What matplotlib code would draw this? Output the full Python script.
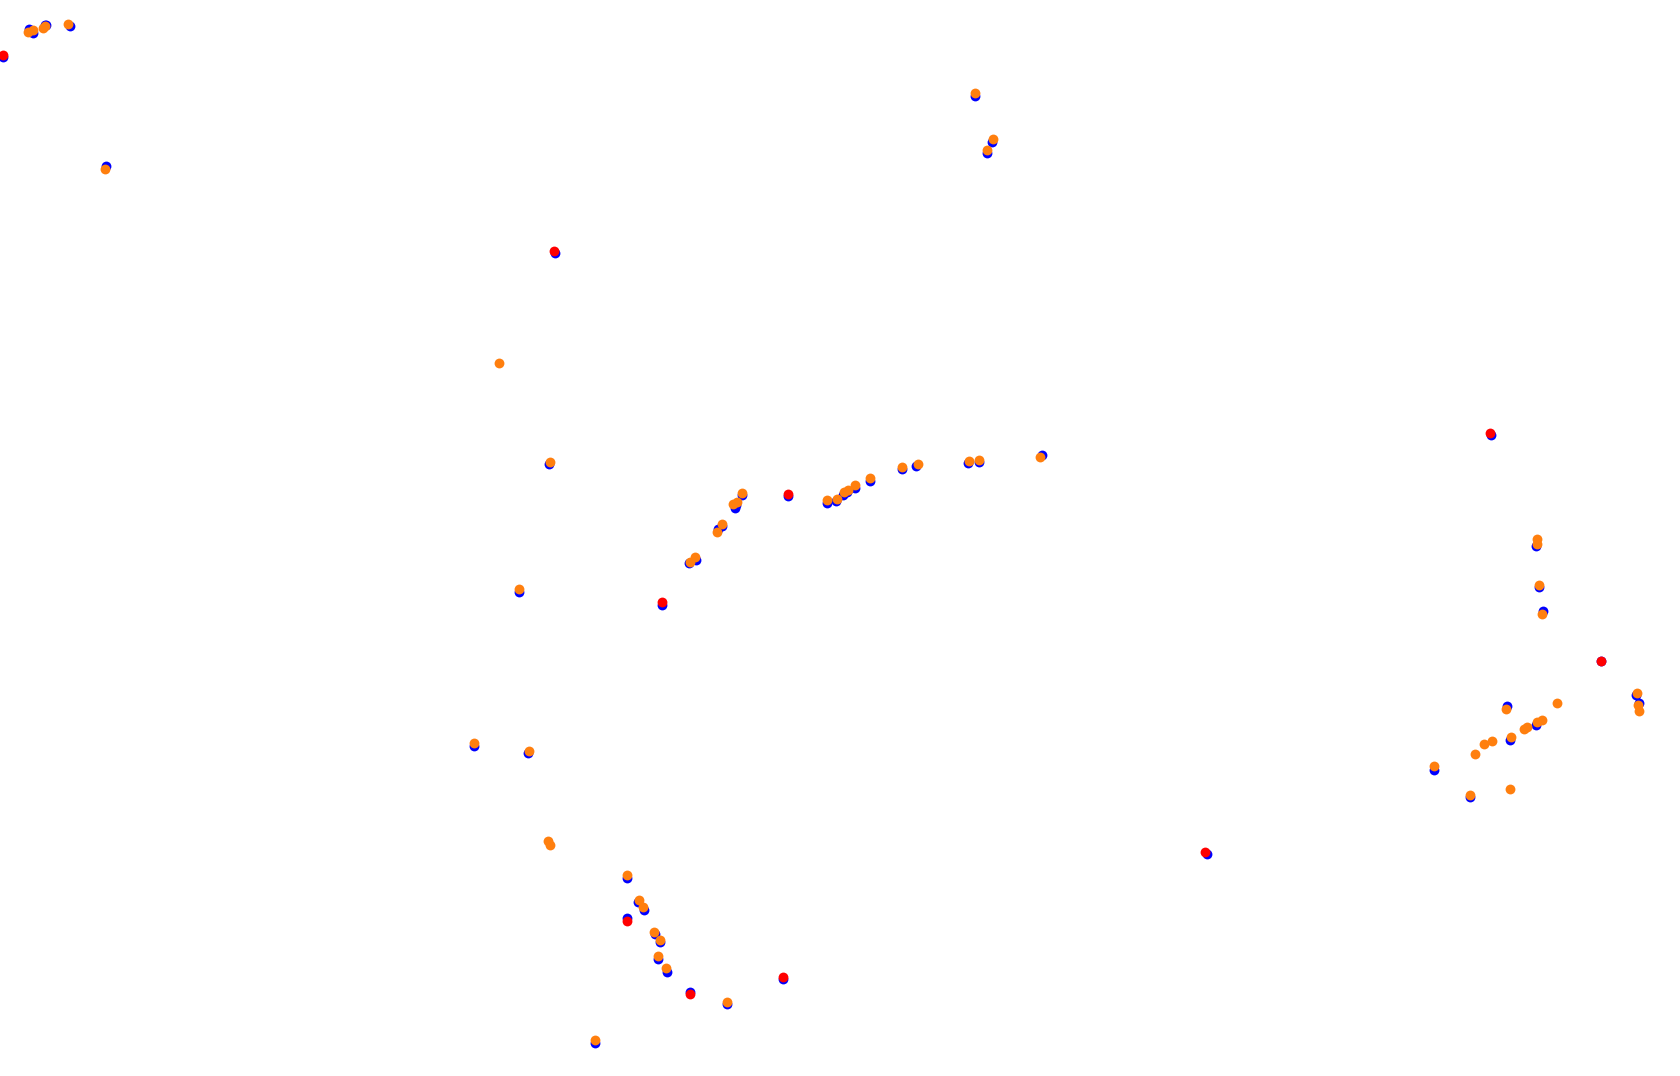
import matplotlib
matplotlib.use("Agg")
import matplotlib.pyplot as plt

# Series 1 (blue)
blue_x = [2.7, 29.3, 33.3, 45.3, 46.3, 70.3, 106.3,
          555, 548.7, 519, 661.7,
          689, 695.7, 718, 722, 735, 736, 741.7, 788, 827, 836, 843, 846.7, 855, 869.7, 902, 916.3, 968.3, 979, 1042,
          975, 992, 987,
          473.7, 527.7, 627, 637.7, 643.7, 627, 655, 660, 657.7, 666.7, 595, 689.7, 726.7, 782.7,
          1207, 1490.7, 1536, 1539, 1543.3,
          1600.7, 1635.7, 1639, 1507, 1536.3, 1509.7, 1433.7, 1469.7]
blue_y = [57.3, 28.7, 32.7, 25.3, 24.7, 26, 165.7,
          253, 464.3, 591.7, 605,
          563, 560, 529, 526, 508, 505, 495, 496, 502.7, 501, 495, 492, 488, 481, 469, 466, 463, 462, 454.7,
          96, 141.7, 152.7,
          746, 753, 878, 902, 910, 918, 934.3, 942, 958.7, 971.7, 1042.7, 992, 1004.3, 979.3,
          854, 434.7, 546, 587.3, 611,
          661, 695.3, 703.3, 706.3, 725.3, 740.3, 770, 797.3]

# Series 2 (red)
red_x = [2.7, 554, 661.7, 787.7, 626.7, 689.7, 782.7, 1205.3, 1489.7, 1600.7]
red_y = [55, 251, 601.7, 494, 920.7, 993.7, 977, 851.7, 432.7, 660.7]

# Series 3 (orange)
orange_x = [28.3, 33.3, 42.7, 45, 67.7, 104.7,
            498.7, 550, 519,
            690, 694.7, 717, 721.7, 733, 737, 741.7, 826.7, 836.7, 844, 847.7, 855, 869.7, 902, 917.7, 969, 979, 1040.3,
            975, 993, 987,
            473.7, 529, 547.7, 550, 627, 639, 642.7, 653.7, 659.7, 657.7, 665.7, 595, 726.7,
            1537, 1537, 1539, 1541.7,
            1636.7, 1637.7, 1639, 1506, 1556.7, 1542, 1536.7, 1526.7, 1524.3, 1510.7, 1491.7, 1483.7, 1475, 1433.7, 1469.7, 1509.7]
orange_y = [31.7, 30, 28.3, 26, 24.3, 168.7,
            362.7, 461.7, 588.7,
            561.7, 557, 531.7, 523.7, 504, 501.7, 492.7, 500, 498.7, 492, 489.7, 484.7, 477.7, 466.7, 463.7, 460.7, 459.7, 457,
            93, 138.7, 150,
            742.7, 750.7, 841.3, 845, 874.7, 899.7, 907, 931.7, 939.7, 956, 968.3, 1040, 1001.7,
            539, 544, 585, 613.7,
            692.7, 705.3, 710.7, 708.7, 702.7, 719.7, 721.7, 727.3, 729, 736.7, 740.7, 743.7, 753.7, 766.3, 794.7, 788.7]

fig = plt.figure(figsize=(16.8, 10.76), dpi=100)
ax = fig.add_axes([0, 0, 1, 1])
ms = 50
ax.scatter(blue_x, blue_y, s=ms, c="#0000ff", linewidths=0, zorder=1)
ax.scatter(red_x, red_y, s=ms, c="#ff0000", linewidths=0, zorder=2)
ax.scatter(orange_x, orange_y, s=ms, c="#ff7f0e", linewidths=0, zorder=3)
ax.set_xlim(0, 1680)
ax.set_ylim(1076, 0)
ax.axis("off")
fig.savefig("out.png", dpi=100, facecolor="white")
